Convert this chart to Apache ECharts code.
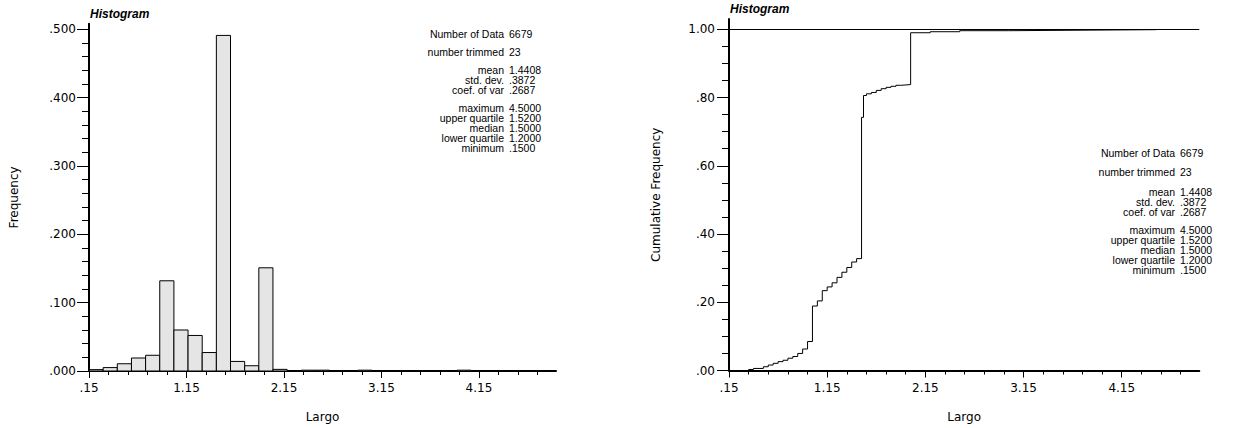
<!DOCTYPE html>
<html><head><meta charset="utf-8">
<script src="https://cdn.jsdelivr.net/npm/echarts@6/dist/echarts.min.js"></script>
<style>html,body{margin:0;padding:0;background:#fff}#c{width:1245px;height:428px}</style>
</head><body><div id="c"></div>
<script>
// ---------- data ----------
const binStart = 0.15;
const binWidth = 0.14515;
const freq = [0.002,0.005,0.0106,0.019,0.023,0.132,0.060,0.052,0.027,0.491,0.014,0.0077,0.151,0.0024,0,0.0012,0.0012,0,0,0.0012,0,0,0,0,0,0,0.0012,0,0,0,0,0,0];
const cumX = [0.30,0.35,0.40,0.50,0.55,0.60,0.65,0.70,0.75,0.80,0.85,0.90,0.95,1.00,1.05,1.10,1.15,1.20,1.25,1.30,1.35,1.40,1.45,1.50,1.52,1.55,1.60,1.65,1.70,1.75,1.80,1.85,1.90,2.00,2.20,2.50,3.00,4.00,4.50];
const cumY = [0.000,0.003,0.006,0.011,0.016,0.021,0.026,0.030,0.036,0.041,0.050,0.063,0.085,0.189,0.204,0.234,0.245,0.257,0.273,0.288,0.302,0.318,0.328,0.742,0.806,0.811,0.815,0.821,0.826,0.830,0.833,0.836,0.838,0.990,0.993,0.996,0.998,0.999,1.000];
const xMajor = [0.15,1.15,2.15,3.15,4.15];
const xMinor = [0.35,0.55,0.75,0.95,1.35,1.55,1.75,1.95,2.35,2.55,2.75,2.95,3.35,3.55,3.75,3.95,4.35,4.55,4.75];
const leftYMajor = [0,0.1,0.2,0.3,0.4,0.5];
const leftYMinor = [0.02,0.04,0.06,0.08,0.12,0.14,0.16,0.18,0.22,0.24,0.26,0.28,0.32,0.34,0.36,0.38,0.42,0.44,0.46,0.48];
const rightYMajor = [0,0.2,0.4,0.6,0.8,1.0];
const rightYMinor = [0.05,0.10,0.15,0.25,0.30,0.35,0.45,0.50,0.55,0.65,0.70,0.75,0.85,0.90,0.95];
const statLabels = ['Number of Data','number trimmed','mean','std. dev.','coef. of var','maximum','upper quartile','median','lower quartile','minimum'];
const statValues = ['6679','23','1.4408','.3872','.2687','4.5000','1.5200','1.5000','1.2000','.1500'];
const titleText = 'Histogram';
const xName = 'Largo';
const leftYName = 'Frequency';
const rightYName = 'Cumulative Frequency';

// ---------- layout ----------
const FONT = 'DejaVu Sans';
const SANS = '"Liberation Sans", Arial, sans-serif';
const xMin = 0.15, xMax = 4.94;
const leftYMax = 0.508, rightYMax = 1.03;

const chart = echarts.init(document.getElementById('c'), null, {renderer: 'svg', width: 1245, height: 428});

const fmtX = v => v.toFixed(2).replace(/^0/, '');
const fmtL = v => v.toFixed(3).replace(/^0/, '');
const fmtR = v => v.toFixed(2).replace(/^0/, '');

function mkX(grid) {
  return [{
    type: 'value', gridIndex: grid, position: 'bottom', min: xMin, max: xMax,
    name: xName, nameLocation: 'middle', nameGap: 40,
    nameTextStyle: {fontFamily: FONT, fontSize: 12, color: '#000'},
    axisLine: {show: true, onZero: false, lineStyle: {color: '#000', width: 2}},
    axisTick: {show: true, length: 7, customValues: xMajor, lineStyle: {color: '#000', width: 1}},
    axisLabel: {show: true, customValues: xMajor, margin: 11, formatter: fmtX, fontFamily: FONT, fontSize: 12, color: '#000'},
    splitLine: {show: false}
  }, {
    type: 'value', gridIndex: grid, position: 'bottom', min: xMin, max: xMax,
    axisLine: {show: false, onZero: false},
    axisTick: {show: true, length: 4, customValues: xMinor, lineStyle: {color: '#000', width: 1}},
    axisLabel: {show: false}, splitLine: {show: false}
  }];
}
function mkY(grid, max, major, minor, fmt, name, nameGap, margin) {
  return [{
    type: 'value', gridIndex: grid, position: 'left', min: 0, max: max,
    name: name, nameLocation: 'middle', nameGap: nameGap,
    nameTextStyle: {fontFamily: FONT, fontSize: 12, color: '#000'},
    axisLine: {show: true, onZero: false, lineStyle: {color: '#000', width: 2}},
    axisTick: {show: true, length: 12, customValues: major, lineStyle: {color: '#000', width: 1}},
    axisLabel: {show: true, customValues: major, margin: margin, formatter: fmt, fontFamily: FONT, fontSize: 12, color: '#000', verticalAlign: 'middle', padding: [0, 0, 5, 0]},
    splitLine: {show: false}
  }, {
    type: 'value', gridIndex: grid, position: 'left', min: 0, max: max,
    axisLine: {show: false, onZero: false},
    axisTick: {show: true, length: 7, customValues: minor, lineStyle: {color: '#000', width: 1}},
    axisLabel: {show: false}, splitLine: {show: false}
  }];
}

const bins = freq.map((f, i) => [binStart + i * binWidth, binStart + (i + 1) * binWidth, f]);
const cum = cumX.map((x, i) => [x, cumY[i]]);

function statBlock(xRight, yTop, offs) {
  const els = [];
  const st = {fill: '#000', font: '10.5px "Liberation Sans", Arial, sans-serif', lineHeight: 8.5, verticalAlign: 'middle'};
  statLabels.forEach((t, i) => {
    els.push({type: 'text', x: xRight, y: yTop + offs[i], silent: true,
      style: Object.assign({text: t, align: 'right'}, st)});
    els.push({type: 'text', x: xRight + 5, y: yTop + offs[i], silent: true,
      style: Object.assign({text: statValues[i], align: 'left'}, st)});
  });
  return els;
}
const offsL = [0, 17.5, 35.5, 45.5, 55.5, 73.5, 83.5, 93.5, 103.5, 113.5];
const offsR = [0, 19, 39, 49, 59, 77, 87, 97, 107, 117];

const titleStyle = {fontFamily: SANS, fontSize: 12, fontWeight: 'bold', fontStyle: 'italic', color: '#000'};
const option = {
  animation: false,
  backgroundColor: '#fff',
  title: [
    {text: titleText, left: 90, top: 8, padding: 0, textStyle: titleStyle},
    {text: titleText, left: 730, top: 3, padding: 0, textStyle: titleStyle}
  ],
  grid: [
    {left: 89, top: 23.8, width: 467, height: 349.2, containLabel: false},
    {left: 729, top: 19.1, width: 470.3, height: 351.4, containLabel: false}
  ],
  xAxis: [...mkX(0), ...mkX(1)],
  yAxis: [
    ...mkY(0, leftYMax, leftYMajor, leftYMinor, fmtL, leftYName, 69, 13),
    ...mkY(1, rightYMax, rightYMajor, rightYMinor, fmtR, rightYName, 67, 14)
  ],
  series: [
    {
      type: 'custom', xAxisIndex: 0, yAxisIndex: 0, data: bins,
      encode: {x: [0, 1], y: 2},
      renderItem: function (params, api) {
        const h = api.value(2);
        if (!(h > 0)) return null;
        const p0 = api.coord([api.value(0), h]);
        const p1 = api.coord([api.value(1), 0]);
        return {type: 'rect', shape: {x: p0[0], y: p0[1], width: p1[0] - p0[0], height: p1[1] - p0[1]},
          style: {fill: '#e5e5e5', stroke: '#000', lineWidth: 1}};
      }
    },
    {
      type: 'line', xAxisIndex: 2, yAxisIndex: 2, data: cum, step: 'end',
      symbol: 'none', showSymbol: false, lineStyle: {color: '#000', width: 1},
      markLine: {silent: true, symbol: ['none', 'none'], label: {show: false},
        lineStyle: {color: '#000', width: 1, type: 'solid'}, data: [{yAxis: 1}]}
    }
  ],
  graphic: [...statBlock(504, 34, offsL), ...statBlock(1175, 153, offsR)]
};
chart.setOption(option);
</script></body></html>
